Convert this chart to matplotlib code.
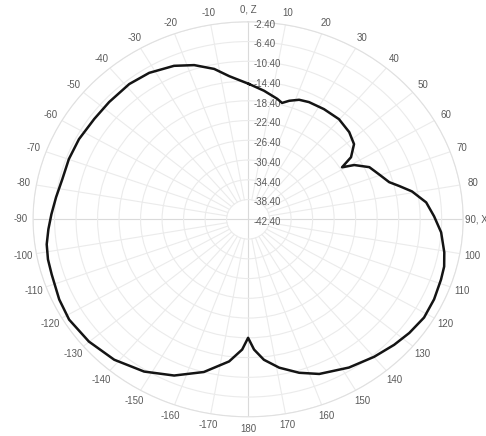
import matplotlib.pyplot as plt
import numpy as np

plt.rcParams['font.family'] = ['Liberation Sans', 'DejaVu Sans']

# pattern: angle in degrees (clockwise from Z), level in dB
angle_deg = [0.4, 6.5, 12.5, 15.0, 17.7, 21.4, 25.5, 32.3, 39.8, 46.8, 52.3, 56.7,
             58.9, 60.9, 64.9, 69.5, 74.0, 76.5, 79.5, 84.1, 89.0, 94.2, 100.4,
             104.7, 108.8, 115.1, 121.3, 127.5, 133.1, 139.9, 148.0, 157.1, 163.0,
             169.1, 174.1, 177.6, 180.0, 182.4, 187.0, 194.9, 203.5, 212.1, 221.2,
             230.1, 238.6, 245.2, 253.0, 257.7, 262.3, 266.9, 271.6, 277.1, 283.2,
             290.1, 297.3, 305.4, 312.6, 321.1, 328.2, 336.1, 342.2, 348.3, 353.1]
gain_db = [-15.0, -16.2, -17.4, -18.0, -17.2, -16.4, -16.1, -16.0, -16.0, -16.6, -17.5, -19.5,
           -22.0, -19.8, -17.5, -16.4, -15.1, -13.5, -11.4, -9.1, -7.8, -6.4, -5.3,
           -4.7, -4.5, -4.2, -4.1, -4.6, -5.2, -6.0, -7.0, -8.4, -9.9,
           -11.8, -13.8, -16.0, -18.4, -16.0, -13.4, -10.4, -7.9, -6.0, -4.6,
           -3.8, -3.4, -3.7, -4.2, -4.3, -4.6, -5.2, -5.8, -6.4, -6.9,
           -6.9, -7.0, -7.3, -7.3, -7.2, -7.5, -8.4, -9.6, -11.3, -13.2]

ring_db = [-2.4, -6.4, -10.4, -14.4, -18.4, -22.4, -26.4, -30.4, -34.4, -38.4, -42.4]
ring_labels = ['%.2f' % v for v in ring_db]

angle_ticks = list(range(0, 360, 10))
angle_labels = []
for t in angle_ticks:
    if t == 0:
        angle_labels.append('0, Z')
    elif t == 90:
        angle_labels.append('90, X')
    elif t > 180:
        angle_labels.append(str(t - 360))
    else:
        angle_labels.append(str(t))

r_min, r_max = -42.4, -2.4
grid_col = '#ebebeb'
text_col = '#5a5a5a'

fig = plt.figure(figsize=(4.86, 4.36), dpi=100)
ax = fig.add_axes([0.068, 0.044, 0.885, 0.906], projection='polar')
ax.set_aspect('auto')
ax.set_theta_zero_location('N')
ax.set_theta_direction(-1)
ax.set_ylim(r_min, r_max)

# rings
ax.set_xticks([])
ax.set_yticks(ring_db)
ax.set_yticklabels([])
ax.yaxis.grid(True, color=grid_col, lw=0.8)
ax.spines['polar'].set_color('#e0e0e0')
ax.spines['polar'].set_linewidth(0.8)

# spokes, the four main ones through the centre
for t in angle_ticks:
    rad = np.deg2rad(t)
    if t % 90 == 0:
        ax.plot([rad, rad], [r_min, r_max], color='#dadada', lw=0.8, zorder=1)
    else:
        ax.plot([rad, rad], [-38.4, r_max], color=grid_col, lw=0.8, zorder=1)

for t, lab in zip(angle_ticks, angle_labels):
    ax.text(np.deg2rad(t), r_max + 2.4, lab, ha='center', va='center',
            fontsize=7, color=text_col, clip_on=False)

for v, lab in zip(ring_db, ring_labels):
    ax.annotate(lab, xy=(0, v), xytext=(4, -2), textcoords='offset points',
                ha='left', va='center', fontsize=7, color=text_col,
                annotation_clip=False)

theta = np.deg2rad(angle_deg + angle_deg[:1])
r = gain_db + gain_db[:1]
ax.plot(theta, r, color='#141414', lw=1.8, solid_joinstyle='round', zorder=3)

fig.savefig('out.png', dpi=100)
